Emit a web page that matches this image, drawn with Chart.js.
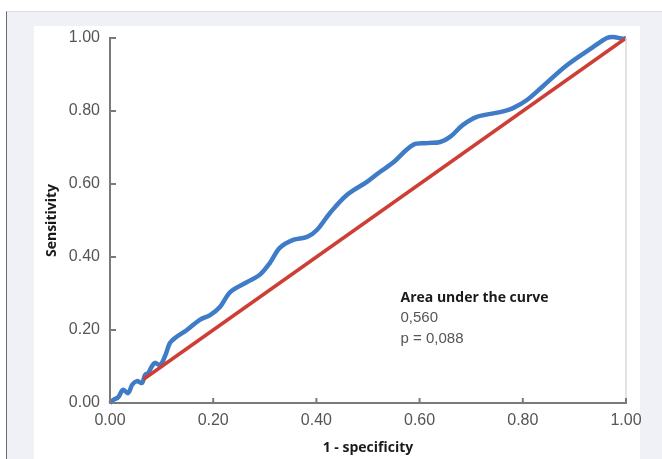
<!DOCTYPE html>
<html>
<head>
<meta charset="utf-8">
<script src="https://cdn.jsdelivr.net/npm/chart.js@4.4.1/dist/chart.umd.min.js"></script>
<style>
    html, body { margin: 0; padding: 0; background: #fff; }
    .frame {
        position: absolute; left: 6px; top: 11px; right: 0; bottom: 0;
        background: #eff1f6;
        border-left: 1px solid #6b6b6b;
        border-top: 1px solid #dcdfe6;
    }
    .panel {
        position: absolute; left: 34px; top: 26px; width: 606px; bottom: 0;
        background: #fff;
    }
    #roc { position: absolute; left: 0; top: 0; }
</style>
</head>
<body>
<div class="frame"></div>
<div class="panel"></div>
<canvas id="roc" width="662" height="459"></canvas>
<script>
// ROC curve values
const fpr = [0, 0.006, 0.016, 0.025, 0.035, 0.043, 0.052, 0.062, 0.068, 0.074, 0.081, 0.087, 0.097,
    0.107, 0.116, 0.126, 0.149, 0.174, 0.194, 0.213, 0.233, 0.265, 0.29, 0.31, 0.329, 0.355,
    0.382, 0.401, 0.426, 0.459, 0.498, 0.523, 0.548, 0.587, 0.614, 0.64, 0.659, 0.684, 0.711,
    0.756, 0.781, 0.808, 0.839, 0.886, 0.936, 0.963, 0.975, 0.994, 1];
const tpr = [0, 0.008, 0.016, 0.036, 0.027, 0.05, 0.06, 0.055, 0.077, 0.082, 0.10, 0.11, 0.104,
    0.13, 0.164, 0.178, 0.20, 0.228, 0.241, 0.263, 0.304, 0.331, 0.351, 0.384, 0.425, 0.447,
    0.455, 0.474, 0.52, 0.57, 0.606, 0.633, 0.658, 0.707, 0.712, 0.715, 0.729, 0.762, 0.784,
    0.797, 0.808, 0.83, 0.868, 0.926, 0.975, 1.0, 1.003, 0.998, 1.0];
const refX = [0.065, 1];
const refY = [0.065, 1];
const axisTicks = [0, 0.2, 0.4, 0.6, 0.8, 1];
const aucLines = ['Area under the curve', '0,560', 'p = 0,088'];

const tickFont = { family: '"Liberation Sans", Arial, sans-serif', size: 16 };
const titleFont = { family: '"Open Sans", sans-serif', size: 14, weight: 'bold' };

// inward tick marks, plot right border and AUC text
const extras = {
    id: 'extras',
    afterDraw(chart) {
        const { ctx, chartArea, scales: { x, y } } = chart;
        ctx.save();
        ctx.strokeStyle = '#dadada';
        ctx.lineWidth = 1.5;
        ctx.beginPath();
        ctx.moveTo(chartArea.right, chartArea.top);
        ctx.lineTo(chartArea.right, chartArea.bottom);
        ctx.stroke();

        ctx.strokeStyle = '#7a7a7a';
        ctx.lineWidth = 2;
        ctx.beginPath();
        axisTicks.forEach(v => {
            const py = y.getPixelForValue(v);
            ctx.moveTo(chartArea.left, py);
            ctx.lineTo(chartArea.left + 6, py);
            const px = x.getPixelForValue(v);
            ctx.moveTo(px, chartArea.bottom);
            ctx.lineTo(px, chartArea.bottom - 5);
        });
        ctx.stroke();

        const tx = x.getPixelForValue(0.563);
        let ty = y.getPixelForValue(0.288);
        ctx.textBaseline = 'middle';
        ctx.fillStyle = '#1a1a1a';
        ctx.font = 'bold 14px "Open Sans", sans-serif';
        ctx.fillText(aucLines[0], tx, ty);
        ctx.fillStyle = '#555';
        ctx.font = '15px "Liberation Sans", Arial, sans-serif';
        ctx.fillText(aucLines[1], tx, ty + 20);
        ctx.fillText(aucLines[2], tx, ty + 41);
        ctx.restore();
    }
};

new Chart(document.getElementById('roc').getContext('2d'), {
    type: 'scatter',
    data: {
        datasets: [{
            label: 'Reference',
            data: refX.map((v, i) => ({ x: v, y: refY[i] })),
            showLine: true,
            borderColor: '#cd3f35',
            borderWidth: 3.5,
            pointRadius: 0,
            tension: 0
        }, {
            label: 'ROC',
            data: fpr.map((v, i) => ({ x: v, y: tpr[i] })),
            showLine: true,
            borderColor: '#3f7cc7',
            borderWidth: 4.5,
            pointRadius: 0,
            tension: 0.35,
            clip: 8
        }]
    },
    options: {
        responsive: false,
        animation: false,
        layout: { padding: { left: 34, right: 36, top: 38, bottom: 0 } },
        plugins: { legend: { display: false }, tooltip: { enabled: false } },
        scales: {
            x: {
                type: 'linear', min: 0, max: 1,
                afterFit: s => { s.height = 56; },
                grid: { display: false, drawTicks: false, tickLength: 0 },
                border: { display: true, color: '#7a7a7a', width: 2 },
                ticks: {
                    stepSize: 0.2, autoSkip: false, maxRotation: 0, padding: 8,
                    color: '#555', font: tickFont,
                    callback: v => Number(v).toFixed(2)
                },
                title: {
                    display: true, text: '1 - specificity', color: '#1a1a1a',
                    font: titleFont, padding: { top: 0, bottom: 3 }
                }
            },
            y: {
                type: 'linear', min: 0, max: 1,
                afterFit: s => { s.width = 76; },
                grid: { display: false, drawTicks: false, tickLength: 0 },
                border: { display: true, color: '#7a7a7a', width: 2 },
                ticks: {
                    stepSize: 0.2, autoSkip: false, padding: 10,
                    color: '#555', font: tickFont,
                    callback: v => Number(v).toFixed(2)
                },
                title: {
                    display: true, text: 'Sensitivity', color: '#1a1a1a',
                    font: titleFont, padding: { top: 10, bottom: 0 }
                }
            }
        }
    },
    plugins: [extras]
});
</script>
</body>
</html>
